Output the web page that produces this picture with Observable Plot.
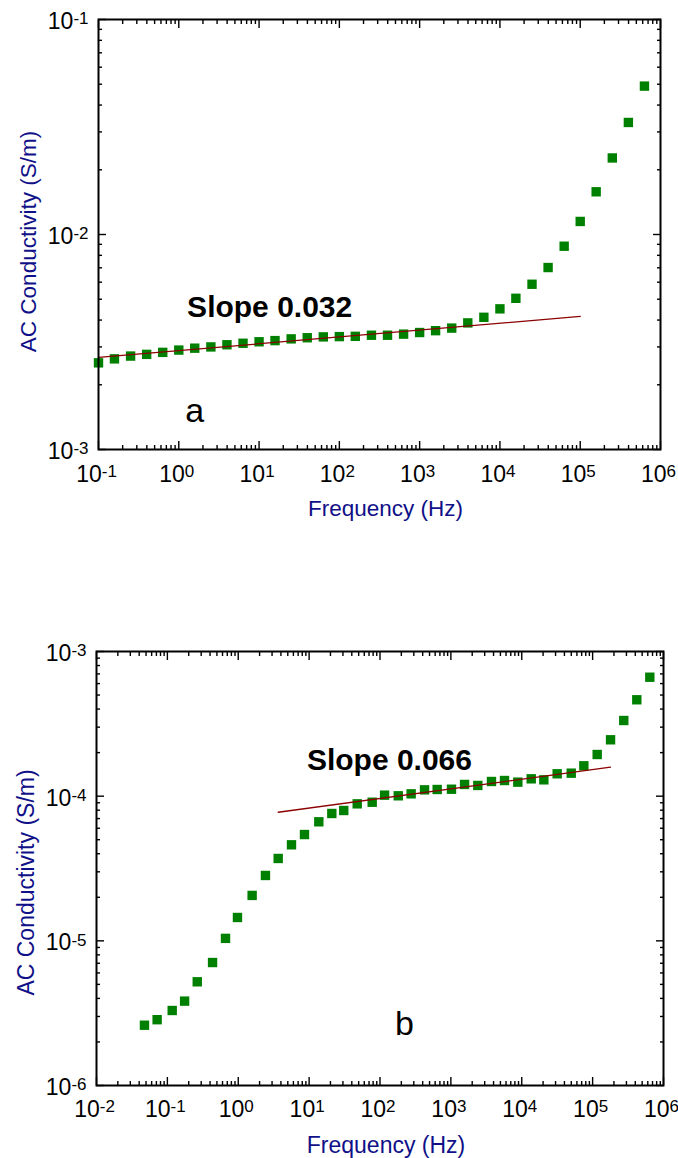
<!DOCTYPE html>
<html><head><meta charset="utf-8">
<script src="https://cdn.jsdelivr.net/npm/d3@7"></script>
<script src="https://cdn.jsdelivr.net/npm/@observablehq/plot@0.6"></script>
<style>
body{margin:0;background:#fff}
#chart{width:678px}
#chart svg{display:block}
</style>
</head><body><div id="chart"></div>
<script>
// ---------- Panel a data ----------
const freqA = [0.1, 0.158, 0.251, 0.398, 0.631, 1, 1.58, 2.51, 3.98, 6.31, 10, 15.8, 25.1, 39.8, 63.1,
  100, 158, 251, 398, 631, 1000, 1580, 2510, 3980, 6310, 10000, 15800, 25100, 39800, 63100,
  100000, 158000, 251000, 398000, 631000];
const sigmaA = [2.53e-3, 2.64e-3, 2.72e-3, 2.77e-3, 2.83e-3, 2.90e-3, 2.96e-3, 3.00e-3, 3.07e-3, 3.12e-3,
  3.17e-3, 3.21e-3, 3.27e-3, 3.31e-3, 3.34e-3, 3.35e-3, 3.36e-3, 3.40e-3, 3.40e-3, 3.44e-3,
  3.50e-3, 3.57e-3, 3.67e-3, 3.88e-3, 4.12e-3, 4.51e-3, 5.05e-3, 5.87e-3, 7.02e-3, 8.82e-3,
  1.15e-2, 1.58e-2, 2.27e-2, 3.32e-2, 4.90e-2];
const fitFreqA = [0.1, 1e5];
const fitSigmaA = [2.68e-3, 4.16e-3];
const xTicksA = [1e-1, 1e0, 1e1, 1e2, 1e3, 1e4, 1e5, 1e6];
const xTickLabelsA = ["10^-1", "10^0", "10^1", "10^2", "10^3", "10^4", "10^5", "10^6"];
const yTicksA = [1e-3, 1e-2, 1e-1];
const yTickLabelsA = ["10^-3", "10^-2", "10^-1"];

// ---------- Panel b data ----------
const freqB = [0.0475, 0.0717, 0.117, 0.175, 0.264, 0.434, 0.661, 0.975, 1.57, 2.42,
  3.66, 5.64, 8.60, 13.7, 20.9, 30.8, 47.7, 77.6, 116, 181,
  275, 425, 641, 1020, 1560, 2400, 3740, 5710, 8800, 13600,
  20500, 31600, 49900, 75200, 116000, 179000, 275000, 420000, 641000];
const sigmaB = [2.61e-6, 2.85e-6, 3.30e-6, 3.83e-6, 5.21e-6, 7.08e-6, 1.04e-5, 1.45e-5, 2.06e-5, 2.83e-5,
  3.71e-5, 4.61e-5, 5.43e-5, 6.65e-5, 7.59e-5, 7.96e-5, 8.85e-5, 9.08e-5, 1.016e-4, 1.006e-4,
  1.038e-4, 1.106e-4, 1.112e-4, 1.117e-4, 1.205e-4, 1.186e-4, 1.263e-4, 1.283e-4, 1.250e-4, 1.318e-4,
  1.297e-4, 1.428e-4, 1.442e-4, 1.622e-4, 1.941e-4, 2.453e-4, 3.334e-4, 4.637e-4, 6.64e-4];
const fitFreqB = [3.66, 1.787e5];
const fitSigmaB = [7.74e-5, 1.585e-4];
const xTicksB = [1e-2, 1e-1, 1e0, 1e1, 1e2, 1e3, 1e4, 1e5, 1e6];
const xTickLabelsB = ["10^-2", "10^-1", "10^0", "10^1", "10^2", "10^3", "10^4", "10^5", "10^6"];
const yTicksB = [1e-6, 1e-5, 1e-4, 1e-3];
const yTickLabelsB = ["10^-6", "10^-5", "10^-4", "10^-3"];

const xTitle = "Frequency (Hz)";
const yTitle = "AC Conductivity (S/m)";

const GREEN = "#008000";
const FIT = "#8b0000";
const NAVY = "#101088";
const FONT = "'Liberation Sans', Arial, Helvetica, sans-serif";

function minorTicks(major) {
  const t = [];
  for (let i = 0; i < major.length - 1; i++)
    for (let m = 2; m <= 9; m++) t.push(major[i] * m);
  return t;
}

function panel(o) {
  const pts = o.freq.map((f, i) => ({f, s: o.sigma[i]}));
  const fit = o.fitFreq.map((f, i) => ({f, s: o.fitSigma[i]}));
  const xMinor = minorTicks(o.xTicks), yMinor = minorTicks(o.yTicks);
  const tk = {stroke: "black", strokeWidth: 1.4, fill: "none", label: null};
  const svg = Plot.plot({
    width: 678, height: o.height,
    marginTop: o.mt, marginBottom: o.mb, marginLeft: o.ml, marginRight: o.mr,
    style: {fontFamily: FONT, background: "white", color: "black", overflow: "visible"},
    x: {type: "log", domain: o.xDomain},
    y: {type: "log", domain: o.yDomain},
    marks: [
      // inward ticks on all four sides
      Plot.axisX(o.xTicks, {...tk, anchor: "bottom", tickSize: 8, dy: -8}),
      Plot.axisX(xMinor, {...tk, anchor: "bottom", tickSize: 4, dy: -4}),
      Plot.axisX(o.xTicks, {...tk, anchor: "top", tickSize: 8, dy: 8}),
      Plot.axisX(xMinor, {...tk, anchor: "top", tickSize: 4, dy: 4}),
      Plot.axisY(o.yTicks, {...tk, anchor: "left", tickSize: 8, dx: 8}),
      Plot.axisY(yMinor, {...tk, anchor: "left", tickSize: 4, dx: 4}),
      Plot.axisY(o.yTicks, {...tk, anchor: "right", tickSize: 8, dx: -8}),
      Plot.axisY(yMinor, {...tk, anchor: "right", tickSize: 4, dx: -4}),
      // tick labels
      Plot.text(o.xTicks, {x: d => d, text: (d, i) => o.xLabels[i], frameAnchor: "bottom",
        lineAnchor: "bottom", textAnchor: "middle", dy: o.xLabelDy, dx: -2, fontSize: 23, fill: "black"}),
      Plot.text(o.yTicks, {y: d => d, text: (d, i) => o.yLabels[i], frameAnchor: "left",
        lineAnchor: "middle", textAnchor: "end", dx: -10, dy: 2, fontSize: 23, fill: "black"}),
      // axis titles
      Plot.text([xTitle], {frameAnchor: "bottom", lineAnchor: "bottom", textAnchor: "middle",
        dy: o.xTitleDy, dx: 6, fontSize: o.titleSize, fill: NAVY}),
      Plot.text([yTitle], {frameAnchor: "left", rotate: -90, lineAnchor: "bottom", textAnchor: "middle",
        dx: o.yTitleDx, dy: o.yTitleDy, fontSize: o.titleSize, fill: NAVY}),
      // data
      Plot.dot(pts, {x: "f", y: "s", symbol: "square", r: 5.3, fill: GREEN, stroke: "none"}),
      Plot.line(fit, {x: "f", y: "s", stroke: FIT, strokeWidth: 1.3}),
      // annotations
      Plot.text([o.slope.t], {x: () => o.slope.f, y: () => o.slope.s, textAnchor: "start", lineAnchor: "bottom",
        fontSize: 30, fontWeight: "bold", fill: "black"}),
      Plot.text([o.letter.t], {x: () => o.letter.f, y: () => o.letter.s, textAnchor: "start", lineAnchor: "bottom",
        fontSize: 34, fill: "black"}),
      Plot.frame({stroke: "black", strokeWidth: 2})
    ]
  });
  // render "10^n" tick labels with a raised exponent
  const ns = "http://www.w3.org/2000/svg";
  svg.querySelectorAll("text").forEach(t => {
    const m = /^10\^(-?\d+)$/.exec(t.textContent);
    if (!m) return;
    t.textContent = "";
    const base = document.createElementNS(ns, "tspan");
    base.textContent = "10";
    const sup = document.createElementNS(ns, "tspan");
    sup.textContent = m[1];
    sup.setAttribute("font-size", "17");
    sup.setAttribute("dy", "-4.5");
    t.appendChild(base); t.appendChild(sup);
  });
  return svg;
}

const chart = document.getElementById("chart");
chart.appendChild(panel({
  freq: freqA, sigma: sigmaA, fitFreq: fitFreqA, fitSigma: fitSigmaA,
  xDomain: [0.1, 1e6], yDomain: [1e-3, 1e-1],
  xTicks: xTicksA, xLabels: xTickLabelsA, yTicks: yTicksA, yLabels: yTickLabelsA,
  height: 620, mt: 19, mb: 171, ml: 98, mr: 18,
  xLabelDy: 32, xTitleDy: 66, yTitleDx: -63, yTitleDy: 7, titleSize: 22.5,
  slope: {t: "Slope 0.032", f: 1.27, s: 4.13e-3},
  letter: {t: "a", f: 1.2, s: 1.34e-3}
}));
chart.appendChild(panel({
  freq: freqB, sigma: sigmaB, fitFreq: fitFreqB, fitSigma: fitSigmaB,
  xDomain: [1e-2, 1e6], yDomain: [1e-6, 1e-3],
  xTicks: xTicksB, xLabels: xTickLabelsB, yTicks: yTicksB, yLabels: yTickLabelsB,
  height: 538, mt: 31, mb: 73, ml: 96, mr: 15,
  xLabelDy: 31, xTitleDy: 67, yTitleDx: -63, yTitleDy: 14, titleSize: 23,
  slope: {t: "Slope 0.066", f: 9.3, s: 1.528e-4},
  letter: {t: "b", f: 163, s: 2.25e-6}
}));
</script>
</body></html>
